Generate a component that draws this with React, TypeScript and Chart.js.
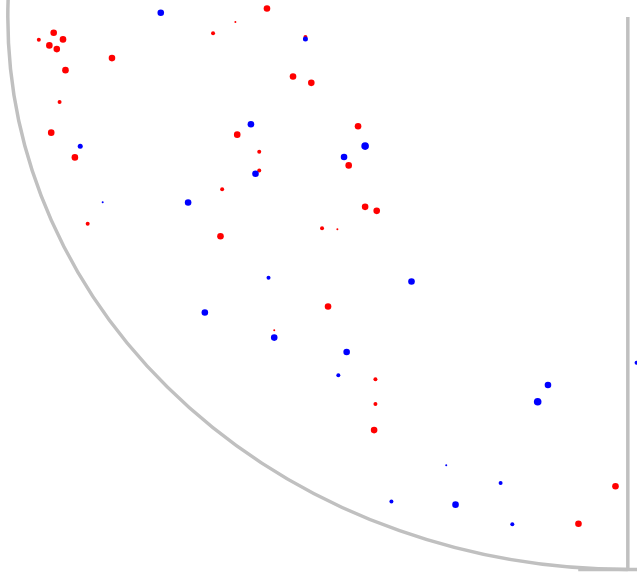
import React, { useEffect, useRef } from "react";
import { Chart, registerables } from "chart.js";

Chart.register(...registerables);

// Data units: circle of radius 100 centred at (0, 0); view is its lower-left quadrant.
const redX = [-58.2, -63.3, -66.9, -95.0, -92.6, -91.1, -93.3, -92.1, -52.0, -83.2, -90.7, -54.0, -51.05, -91.65, -93.0, -63.0, -59.45, -89.18, -59.45, -65.43, -87.12, -65.7, -49.32, -43.51, -45.02, -42.37, -40.5, -46.85, -57.03, -48.35, -40.71, -40.71, -40.92, -1.99, -7.96];
const redY = [1.54, -0.91, -2.96, -4.12, -2.85, -4.05, -5.14, -5.81, -3.63, -7.44, -9.62, -10.76, -11.92, -15.37, -20.93, -21.29, -24.37, -25.41, -27.77, -31.16, -37.44, -39.69, -38.24, -19.78, -26.86, -34.36, -35.08, -38.42, -56.68, -52.4, -65.57, -70.05, -74.77, -84.94, -91.71];
const redSize = [3.3, 1, 2, 2, 3.3, 3.3, 3.3, 3.3, 2, 3.3, 3.3, 3.3, 3.3, 2, 3.3, 3.3, 2, 3.3, 2, 2, 2, 3.3, 2, 3.3, 3.3, 3.3, 3.3, 1, 1, 3.3, 2, 2, 3.3, 3.3, 3.3];

const blueX = [-75.33, -52.0, -60.79, -88.32, -60.05, -84.7, -70.92, -57.95, -42.37, -45.77, -34.89, -68.22, -57.03, -45.35, -46.69, -12.88, -14.54, 1.41, -29.29, -20.52, -38.13, -27.79, -18.63];
const blueY = [0.78, -3.99, -19.42, -23.41, -28.37, -33.52, -33.58, -47.19, -23.36, -25.35, -47.86, -53.48, -58.02, -60.62, -64.85, -66.61, -69.64, -62.56, -81.13, -84.34, -87.71, -88.26, -91.83];
const blueSize = [3.3, 2.5, 3.3, 2.5, 3.3, 1, 3.3, 2, 3.8, 3.3, 3.3, 3.3, 3.3, 3.3, 2, 3.3, 3.8, 2, 1, 2, 2, 3.3, 2];

const RADIUS = 100;
const X_MIN = -101.26;
const X_MAX = 1.48;
const Y_MIN = -100.45;
const Y_MAX = 3.08;

const toPoints = (xs: number[], ys: number[]) => xs.map((x, i) => ({ x, y: ys[i] }));

const frame = {
  id: "quarterFrame",
  beforeDatasetsDraw(chart: any) {
    const { ctx, scales } = chart;
    const xs = scales.x;
    const ys = scales.y;
    const cx = xs.getPixelForValue(0);
    const cy = ys.getPixelForValue(0);
    const rx = Math.abs(xs.getPixelForValue(-RADIUS) - cx);
    const bottom = ys.getPixelForValue(-RADIUS);
    const ry = Math.abs(bottom - cy);
    ctx.save();
    ctx.strokeStyle = "#c0c0c0";
    ctx.lineWidth = 3.5;
    ctx.beginPath();
    ctx.ellipse(cx, cy, rx, ry, 0, Math.PI / 2, Math.PI + 0.2);
    ctx.stroke();
    ctx.beginPath();
    ctx.moveTo(cx, cy);
    ctx.lineTo(cx, bottom);
    ctx.moveTo(xs.getPixelForValue(-8), bottom);
    ctx.lineTo(xs.getPixelForValue(X_MAX), bottom);
    ctx.stroke();
    ctx.restore();
  },
};

export default function App() {
  const ref = useRef<HTMLCanvasElement>(null);
  useEffect(() => {
    if (!ref.current) return;
    const chart = new Chart(ref.current, {
      type: "scatter",
      data: {
        datasets: [
          {
            label: "blue",
            data: toPoints(blueX, blueY),
            backgroundColor: "#0000ff",
            borderWidth: 0,
            pointRadius: blueSize,
          },
          {
            label: "red",
            data: toPoints(redX, redY),
            backgroundColor: "#ff0000",
            borderWidth: 0,
            pointRadius: redSize,
          },
        ],
      },
      options: {
        responsive: false,
        animation: false,
        layout: { padding: 0, autoPadding: false },
        plugins: { legend: { display: false }, tooltip: { enabled: false } },
        scales: {
          x: { type: "linear", min: X_MIN, max: X_MAX, display: false },
          y: { type: "linear", min: Y_MIN, max: Y_MAX, display: false },
        },
      },
      plugins: [frame],
    });
    return () => chart.destroy();
  }, []);
  return (
    <div style={{ position: "fixed", left: 0, top: 0, width: 637, height: 572, background: "#ffffff" }}>
      <canvas ref={ref} width={637} height={572} />
    </div>
  );
}
